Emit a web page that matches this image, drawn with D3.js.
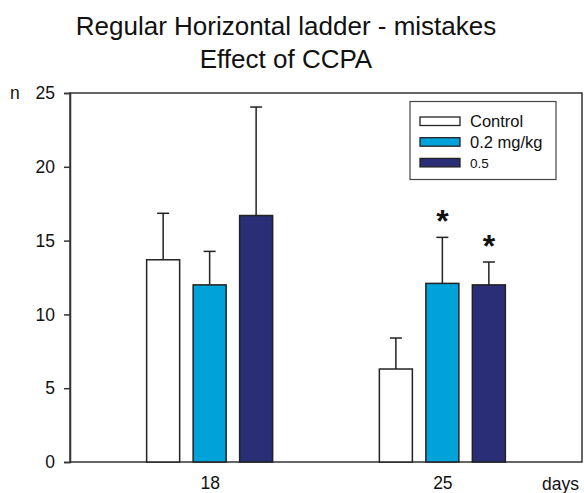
<!DOCTYPE html>
<html>
<head>
<meta charset="utf-8">
<script src="https://cdn.jsdelivr.net/npm/d3@7"></script>
<style>
  html, body { margin: 0; padding: 0; background: #fff; }
  svg { display: block; font-family: "Liberation Sans", Arial, sans-serif; }
</style>
</head>
<body>
<svg id="chart" width="584" height="493"></svg>
<script>
// Mistakes on the regular horizontal ladder, by age (days) and CCPA dose
const days = ["18", "25"];
const groups = ["Control", "0.2 mg/kg", "0.5"];
const colors = ["#ffffff", "#00a3d9", "#2a2e76"];
const means = {
  "18": [13.7, 12.0, 16.7],
  "25": [6.3, 12.1, 12.0]
};
const errors = {
  "18": [3.15, 2.27, 7.35],
  "25": [2.1, 3.12, 1.55]
};
const significant = {
  "18": [false, false, false],
  "25": [false, true, true]
};
const yTicks = [0, 5, 10, 15, 20, 25];

const svg = d3.select("#chart");
const plotLeft = 70, plotRight = 582, plotTop = 93, plotBottom = 462;

const y = d3.scaleLinear().domain([0, 25]).range([plotBottom, plotTop]);
const x = d3.scalePoint().domain(days).range([plotLeft, plotRight]).padding(0.6);
const xSub = d3.scaleBand().domain(groups).range([-63, 63]).paddingInner(0.29);

// Title
const title = svg.append("text")
  .attr("x", 286).attr("y", 35)
  .attr("text-anchor", "middle")
  .style("font-size", "26px").style("fill", "#111");
title.append("tspan").attr("x", 286).attr("y", 35).text("Regular Horizontal ladder - mistakes");
title.append("tspan").attr("x", 286).attr("y", 68).text("Effect of CCPA");

// Frame around the plot area
svg.append("rect")
  .attr("x", plotLeft).attr("y", plotTop)
  .attr("width", plotRight - plotLeft).attr("height", plotBottom - plotTop)
  .attr("fill", "none").attr("stroke", "#333").attr("stroke-width", 1.5);

// Y axis
const yAxis = d3.axisLeft(y).tickValues(yTicks).tickSize(6).tickPadding(9).tickFormat(d3.format("d"));
const yg = svg.append("g").attr("transform", `translate(${plotLeft},0)`).call(yAxis);
yg.select(".domain").attr("stroke", "#333").attr("stroke-width", 1.5);
yg.selectAll(".tick line").attr("stroke", "#333").attr("stroke-width", 1.5);
yg.selectAll(".tick text").style("font-size", "17.5px").style("fill", "#111")
  .style("font-family", "'Liberation Sans', Arial, sans-serif");

svg.append("text").attr("x", 10).attr("y", 99)
  .style("font-size", "17.5px").style("fill", "#111").text("n");

// X axis labels (no tick marks)
const xAxis = d3.axisBottom(x).tickSize(0).tickPadding(15);
const xg = svg.append("g").attr("transform", `translate(0,${plotBottom})`).call(xAxis);
xg.select(".domain").remove();
xg.selectAll(".tick text").style("font-size", "17.5px").style("fill", "#111")
  .style("font-family", "'Liberation Sans', Arial, sans-serif");

svg.append("text").attr("x", 542).attr("y", 490)
  .style("font-size", "17.5px").style("fill", "#111").text("days");

// Bars, error bars and significance marks
const rows = [];
days.forEach(d => groups.forEach((g, i) => rows.push({
  day: d, group: g, i: i, mean: means[d][i], err: errors[d][i], sig: significant[d][i]
})));

const cx = r => x(r.day) + xSub(r.group) + xSub.bandwidth() / 2;
const capW = 12;

const marks = svg.append("g");
const eb = marks.selectAll("g.err").data(rows).join("g").attr("class", "err");
eb.append("line")
  .attr("x1", cx).attr("x2", cx)
  .attr("y1", r => y(r.mean)).attr("y2", r => y(r.mean + r.err))
  .attr("stroke", "#222").attr("stroke-width", 1.5);
eb.append("line")
  .attr("x1", r => cx(r) - capW / 2).attr("x2", r => cx(r) + capW / 2)
  .attr("y1", r => y(r.mean + r.err)).attr("y2", r => y(r.mean + r.err))
  .attr("stroke", "#222").attr("stroke-width", 1.5);

marks.selectAll("rect.bar").data(rows).join("rect").attr("class", "bar")
  .attr("x", r => x(r.day) + xSub(r.group))
  .attr("width", xSub.bandwidth())
  .attr("y", r => y(r.mean))
  .attr("height", r => y(0) - y(r.mean))
  .attr("fill", r => colors[r.i])
  .attr("stroke", "#222").attr("stroke-width", 1.5);

marks.selectAll("text.sig").data(rows.filter(r => r.sig)).join("text").attr("class", "sig")
  .attr("x", cx)
  .attr("y", r => y(r.mean + r.err) - 5)
  .attr("text-anchor", "middle")
  .style("font-size", "32px").style("font-weight", "bold").style("fill", "#111")
  .text("*");

// Legend
const legend = svg.append("g");
legend.append("rect")
  .attr("x", 410).attr("y", 101.5).attr("width", 146).attr("height", 78)
  .attr("fill", "#fff").attr("stroke", "#444").attr("stroke-width", 1.2);
const legendSizes = ["16.5px", "16.5px", "13.5px"];
groups.forEach((g, i) => {
  const yy = 117 + i * 20.7;
  legend.append("rect")
    .attr("x", 420).attr("y", yy).attr("width", 40).attr("height", 8.5)
    .attr("fill", colors[i]).attr("stroke", "#222").attr("stroke-width", 1.3);
  legend.append("text")
    .attr("x", 470).attr("y", yy + 10)
    .style("font-size", legendSizes[i]).style("fill", "#111")
    .text(g);
});
</script>
</body>
</html>
